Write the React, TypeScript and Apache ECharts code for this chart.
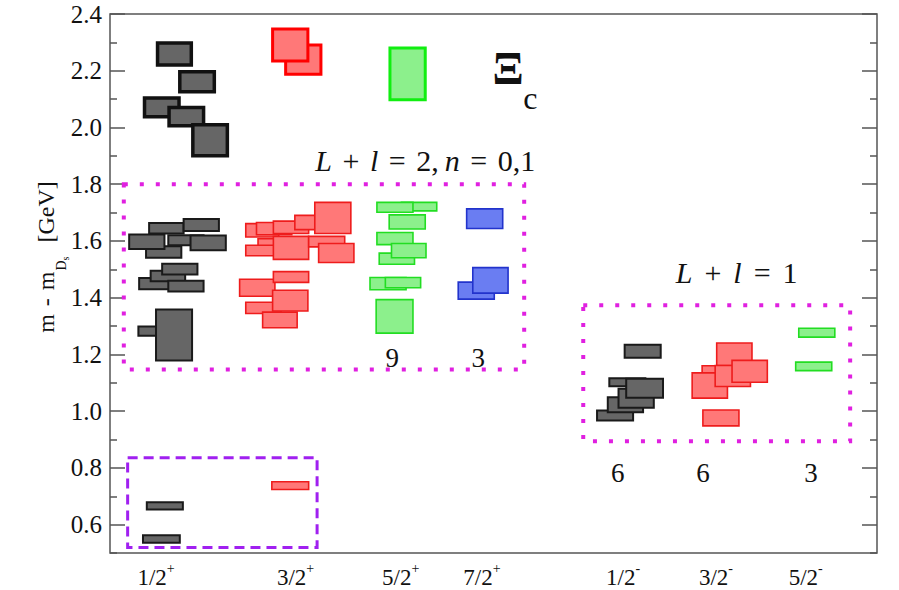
import React, { useEffect, useRef } from "react";
import * as echarts from "echarts";

// ---------- axes ----------
const Y_MIN = 0.5;
const Y_MAX = 2.4;
const X_MIN = 0;
const X_MAX = 10;
const majorTicks = [0.6, 0.8, 1.0, 1.2, 1.4, 1.6, 1.8, 2.0, 2.2, 2.4];
const minorTicks = [0.5, 0.7, 0.9, 1.1, 1.3, 1.5, 1.7, 1.9, 2.1, 2.3];

// J^P categories placed along the x axis
const jpLabels = ["1/2", "3/2", "5/2", "7/2", "1/2", "3/2", "5/2"];
const jpParity = ["+", "+", "+", "+", "-", "-", "-"];
const jpPositions = [0.6, 2.42, 3.79, 4.85, 6.69, 7.9, 9.07];

// ---------- mass bands: [xLeft, xRight, mHigh, mLow] ----------
const blackTop = [
  [0.62, 1.06, 2.298, 2.22],
  [0.91, 1.36, 2.196, 2.126],
  [0.45, 0.9, 2.104, 2.038],
  [0.77, 1.22, 2.07, 2.006],
  [1.08, 1.53, 2.01, 1.9],
];
const redTop = [
  [2.29, 2.75, 2.291, 2.188],
  [2.12, 2.58, 2.347, 2.234],
];
const greenTop = [[3.65, 4.11, 2.28, 2.098]];

const blackMid = [
  [0.51, 0.96, 1.663, 1.626],
  [0.96, 1.42, 1.677, 1.635],
  [0.47, 0.93, 1.581, 1.541],
  [0.25, 0.71, 1.623, 1.572],
  [0.76, 1.22, 1.62, 1.585],
  [1.05, 1.51, 1.619, 1.567],
  [0.38, 0.84, 1.469, 1.43],
  [0.53, 0.98, 1.495, 1.458],
  [0.68, 1.14, 1.52, 1.482],
  [0.76, 1.22, 1.46, 1.422],
  [0.37, 0.84, 1.298, 1.266],
  [0.6, 1.07, 1.358, 1.179],
];
const redMid = [
  [1.77, 2.2, 1.661, 1.614],
  [1.91, 2.37, 1.665, 1.622],
  [2.13, 2.59, 1.67, 1.626],
  [2.41, 2.87, 1.69, 1.64],
  [2.67, 3.14, 1.736, 1.626],
  [1.93, 2.39, 1.608, 1.579],
  [1.77, 2.23, 1.585, 1.548],
  [2.13, 2.59, 1.616, 1.535],
  [2.59, 3.06, 1.616, 1.579],
  [2.72, 3.18, 1.591, 1.524],
  [1.69, 2.15, 1.465, 1.405],
  [2.13, 2.59, 1.492, 1.454],
  [1.77, 2.23, 1.384, 1.344],
  [2.12, 2.58, 1.426, 1.353],
  [1.99, 2.44, 1.349, 1.294],
];
const greenMid = [
  [3.8, 4.26, 1.736, 1.706],
  [3.48, 3.95, 1.736, 1.701],
  [3.64, 4.11, 1.692, 1.642],
  [3.48, 3.95, 1.63, 1.587],
  [3.51, 3.97, 1.557, 1.518],
  [3.67, 4.12, 1.591, 1.541],
  [3.39, 3.86, 1.471, 1.428],
  [3.59, 4.05, 1.471, 1.435],
  [3.47, 3.95, 1.393, 1.275],
];
const blueMid = [
  [4.65, 5.12, 1.713, 1.644],
  [4.54, 5.01, 1.455, 1.395],
  [4.73, 5.19, 1.506, 1.416],
];
const blackNeg = [
  [6.35, 6.82, 1.002, 0.967],
  [6.49, 6.95, 1.049, 0.996],
  [6.63, 7.09, 1.079, 1.012],
  [6.51, 6.98, 1.116, 1.088],
  [6.73, 7.21, 1.114, 1.047],
  [6.71, 7.18, 1.234, 1.188],
];
const redNeg = [
  [7.91, 8.37, 1.24, 1.161],
  [7.72, 8.18, 1.16, 1.114],
  [7.59, 8.05, 1.135, 1.046],
  [7.89, 8.35, 1.161, 1.087],
  [8.11, 8.57, 1.179, 1.102],
  [7.73, 8.2, 1.004, 0.948],
];
const greenNeg = [
  [8.98, 9.45, 1.292, 1.261],
  [8.94, 9.41, 1.173, 1.143],
];
const blackLow = [
  [0.48, 0.95, 0.679, 0.653],
  [0.43, 0.91, 0.563, 0.536],
];
const redLow = [[2.11, 2.59, 0.751, 0.724]];

// ---------- frames: [xLeft, xRight, mTop, mBottom] ----------
const framesDotted = [
  [0.18, 5.4, 1.8, 1.147],
  [6.17, 9.65, 1.373, 0.894],
];
const framesDashed = [[0.23, 2.7, 0.836, 0.519]];

// ---------- annotations ----------
const annoTexts = [
  "{i|L}{r| }{o|+}{r| }{i|l}{r| }{o|=}{r| 2,\u2009}{i|n}{r| }{o|=}{r| 0,1}",
  "{i|L}{r| }{q|+}{r| }{i|l}{r| }{q|=}{r| 1}",
  "9",
  "3",
  "6",
  "6",
  "3",
  "Ξ",
  "c",
];
const annoPositions = [
  [4.11, 1.885],
  [8.17, 1.489],
  [3.68, 1.189],
  [4.8, 1.189],
  [6.62, 0.783],
  [7.73, 0.783],
  [9.14, 0.783],
  [5.19, 2.208],
  [5.48, 2.105],
];
const annoKinds = ["math", "math", "num", "num", "num", "num", "num", "xi", "sub"];

const SERIF = "Liberation Serif";

function boxSeries(name: string, data: number[][], fill: string, stroke: string, lineWidth: number, z = 2) {
  return {
    type: "custom",
    name,
    z,
    data,
    encode: { x: [0, 1], y: [2, 3] },
    renderItem: (_params: any, api: any) => {
      const a = api.coord([api.value(0), api.value(2)]);
      const b = api.coord([api.value(1), api.value(3)]);
      return {
        type: "rect",
        shape: { x: a[0], y: a[1], width: b[0] - a[0], height: b[1] - a[1] },
        style: { fill, stroke, lineWidth },
      };
    },
  };
}

function frameSeries(name: string, data: number[][], stroke: string, lineWidth: number, lineDash: number[]) {
  return {
    type: "custom",
    name,
    z: 5,
    data,
    encode: { x: [0, 1], y: [2, 3] },
    renderItem: (_params: any, api: any) => {
      const a = api.coord([api.value(0), api.value(2)]);
      const b = api.coord([api.value(1), api.value(3)]);
      return {
        type: "rect",
        shape: { x: a[0], y: a[1], width: b[0] - a[0], height: b[1] - a[1] },
        style: { fill: "none", stroke, lineWidth, lineDash },
      };
    },
  };
}

const mathRich = {
  i: { fontFamily: SERIF, fontStyle: "italic", fontSize: 30, fill: "#111", verticalAlign: "middle" },
  r: { fontFamily: SERIF, fontSize: 30, fill: "#111", verticalAlign: "middle" },
  o: { fontFamily: SERIF, fontSize: 30, fill: "#111", padding: [0, 3], verticalAlign: "middle" },
  q: { fontFamily: SERIF, fontSize: 30, fill: "#111", padding: [0, 4.5], verticalAlign: "middle" },
};

function annoStyle(kind: string, text: string) {
  if (kind === "math") {
    return { text, rich: mathRich, align: "center", verticalAlign: "middle" };
  }
  if (kind === "num") {
    return { text, fontFamily: SERIF, fontSize: 27, fill: "#111", align: "center", verticalAlign: "middle" };
  }
  if (kind === "xi") {
    return { text, fontFamily: SERIF, fontSize: 46, fontWeight: "bold", fill: "#111", align: "center", verticalAlign: "middle" };
  }
  return { text, fontFamily: SERIF, fontSize: 32, fill: "#111", align: "center", verticalAlign: "middle" };
}

export default function App() {
  const ref = useRef<HTMLDivElement>(null);
  useEffect(() => {
    if (!ref.current) return;
    const chart = echarts.init(ref.current, null, { renderer: "svg" });

    const tickLine = { color: "#555", width: 1.5 };
    const yBase = { type: "value", min: Y_MIN, max: Y_MAX, splitLine: { show: false }, axisLine: { show: false } };

    const option: any = {
      animation: false,
      backgroundColor: "#fff",
      textStyle: { fontFamily: SERIF },
      grid: {
        left: 110,
        right: 22,
        top: 14,
        bottom: 37,
        show: true,
        borderColor: "#555",
        borderWidth: 1.5,
        backgroundColor: "transparent",
        outerBoundsMode: "none",
      },
      xAxis: {
        type: "value",
        min: X_MIN,
        max: X_MAX,
        splitLine: { show: false },
        axisLine: { show: false },
        axisTick: { show: false },
        axisLabel: {
          customValues: jpPositions,
          margin: 8,
          fontFamily: SERIF,
          formatter: (v: number) => {
            let idx = 0;
            let best = Infinity;
            jpPositions.forEach((p, i) => {
              if (Math.abs(p - v) < best) {
                best = Math.abs(p - v);
                idx = i;
              }
            });
            return `{n|${jpLabels[idx]}}{p|${jpParity[idx]}}`;
          },
          rich: {
            n: { fontFamily: SERIF, fontSize: 23, color: "#111", lineHeight: 28, verticalAlign: "bottom" },
            p: { fontFamily: SERIF, fontSize: 14, color: "#111", lineHeight: 13, verticalAlign: "top" },
          },
        },
      },
      yAxis: [
        {
          ...yBase,
          position: "left",
          axisTick: { show: true, inside: true, length: 15, customValues: majorTicks, lineStyle: tickLine },
          axisLabel: {
            customValues: majorTicks,
            formatter: (v: number) => v.toFixed(1),
            fontFamily: SERIF,
            fontSize: 25,
            color: "#111",
            margin: 8,
          },
        },
        {
          ...yBase,
          position: "left",
          axisTick: { show: true, inside: true, length: 7, customValues: minorTicks, lineStyle: tickLine },
          axisLabel: { show: false },
        },
        {
          ...yBase,
          position: "right",
          axisTick: { show: true, inside: true, length: 15, customValues: majorTicks, lineStyle: tickLine },
          axisLabel: { show: false },
        },
        {
          ...yBase,
          position: "right",
          axisTick: { show: true, inside: true, length: 7, customValues: minorTicks, lineStyle: tickLine },
          axisLabel: { show: false },
        },
      ],
      graphic: [
        {
          type: "text",
          x: 47,
          y: 257,
          rotation: Math.PI / 2,
          style: {
            text: "{a|m}{b|-}{a|m}{d|D}{s|s}{g|[GeV]}",
            align: "center",
            verticalAlign: "middle",
            fontFamily: SERIF,
            rich: {
              a: { fontFamily: SERIF, fontSize: 24, fill: "#111", lineHeight: 26, verticalAlign: "top" },
              b: { fontFamily: SERIF, fontSize: 24, fill: "#111", lineHeight: 26, verticalAlign: "top", padding: [0, 8] },
              g: { fontFamily: SERIF, fontSize: 24, fill: "#111", lineHeight: 26, verticalAlign: "top", padding: [0, 0, 0, 14] },
              d: { fontFamily: SERIF, fontSize: 14, fill: "#111", lineHeight: 14, verticalAlign: "top", padding: [20, 0, 0, 1] },
              s: { fontFamily: SERIF, fontSize: 10, fill: "#111", lineHeight: 10, verticalAlign: "top", padding: [26, 0, 0, 0] },
            },
          },
        },
      ],
      series: [
        boxSeries("blackTop", blackTop, "#666666", "#111111", 3.5),
        boxSeries("redTop", redTop, "#ff7878", "#ff0000", 3),
        boxSeries("greenTop", greenTop, "#8cf08c", "#11ee11", 3),
        boxSeries("blackMid", blackMid, "#666666", "#1a1a1a", 2),
        boxSeries("redMid", redMid, "#ff7878", "#ee1c1c", 1.6),
        boxSeries("greenMid", greenMid, "#8cf08c", "#22dd22", 1.6),
        boxSeries("blueMid", blueMid, "#6a7df2", "#2233cc", 1.6),
        boxSeries("blackNeg", blackNeg, "#666666", "#1a1a1a", 2),
        boxSeries("redNeg", redNeg, "#ff7878", "#ee1c1c", 1.6),
        boxSeries("greenNeg", greenNeg, "#8cf08c", "#22dd22", 1.6),
        boxSeries("blackLow", blackLow, "#666666", "#1a1a1a", 2),
        boxSeries("redLow", redLow, "#ff7878", "#ee1c1c", 1.6),
        frameSeries("dotted", framesDotted, "#e020e0", 4, [4, 12]),
        frameSeries("dashed", framesDashed, "#a020f0", 3, [10, 6]),
        {
          type: "custom",
          name: "annotations",
          z: 10,
          data: annoPositions,
          encode: { x: 0, y: 1 },
          renderItem: (params: any, api: any) => {
            const i = params.dataIndex;
            const pt = api.coord([api.value(0), api.value(1)]);
            return { type: "text", x: pt[0], y: pt[1], style: annoStyle(annoKinds[i], annoTexts[i]) };
          },
        },
      ],
    };

    chart.setOption(option);
    return () => chart.dispose();
  }, []);

  return (
    <div
      ref={ref}
      style={{ position: "fixed", left: 0, top: 0, width: 899, height: 590, background: "#fff" }}
    />
  );
}
